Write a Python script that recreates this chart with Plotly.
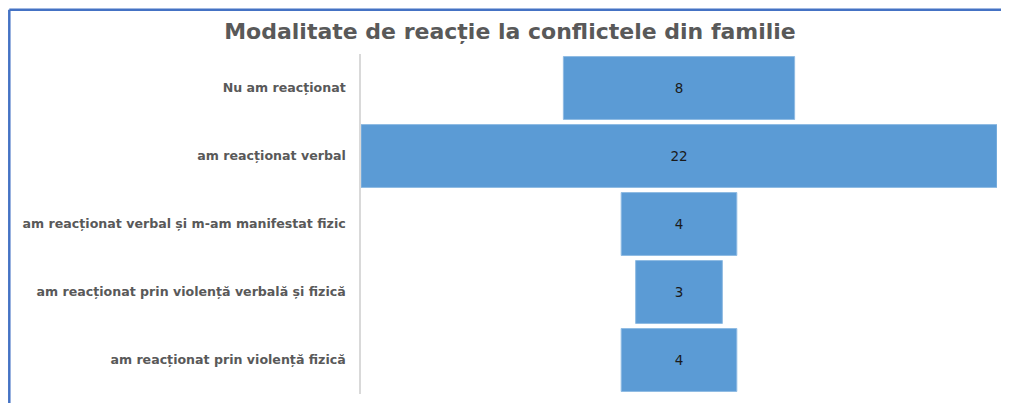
import plotly.graph_objects as go

categories = [
    "Nu am reacționat",
    "am reacționat verbal",
    "am reacționat verbal și m-am manifestat fizic",
    "am reacționat prin violență verbală și fizică",
    "am reacționat prin violență fizică",
]
values = [8, 22, 4, 3, 4]
title_text = "Modalitate de reacție la conflictele din familie"

# page body has an 8px margin; figure sized to fit the window
W, H = 1001, 395
ML, MR, MT, MB = 353, 12, 45.5, 9
pw = W - ML - MR
ph = H - MT - MB

fig = go.Figure(
    go.Funnel(
        y=categories,
        x=values,
        textinfo="value",
        textposition="inside",
        insidetextfont=dict(family="DejaVu Sans", size=13.5, color="#1a1a1a"),
        marker=dict(color="#5B9BD5", line=dict(color="#8fbbe3", width=1)),
        connector=dict(visible=False),
        hoverinfo="y+x",
    )
)

fig.update_layout(
    width=W,
    height=H,
    margin=dict(l=ML, r=MR, t=MT, b=MB),
    paper_bgcolor="white",
    plot_bgcolor="white",
    funnelgap=0.075,
    showlegend=False,
    title=dict(
        text=title_text,
        x=(510 - 8) / W,
        xanchor="center",
        xref="container",
        y=1 - (31.5 - 8) / H,
        yref="container",
        yanchor="middle",
        font=dict(family="DejaVu Sans", size=22, color="#595959", weight="bold"),
    ),
    xaxis=dict(visible=False, range=[-11, 11], fixedrange=True),
    yaxis=dict(
        autorange="reversed",
        showline=True,
        linecolor="#d9d9d9",
        linewidth=1.5,
        showgrid=False,
        ticks="",
        ticklabelstandoff=11,
        tickfont=dict(family="DejaVu Sans", size=12.6, color="#595959", weight="bold"),
    ),
)

# blue frame (top and left edges visible in reference)
bx = (1.3 - ML) / pw
by = (H - MB - 1.3) / ph
fig.add_shape(type="line", xref="paper", yref="paper", x0=bx, x1=1.2, y0=by, y1=by,
              line=dict(color="#4472C4", width=2.5))
fig.add_shape(type="line", xref="paper", yref="paper", x0=bx, x1=bx, y0=by, y1=-0.2,
              line=dict(color="#4472C4", width=2.5))

fig.write_html("out.html")
